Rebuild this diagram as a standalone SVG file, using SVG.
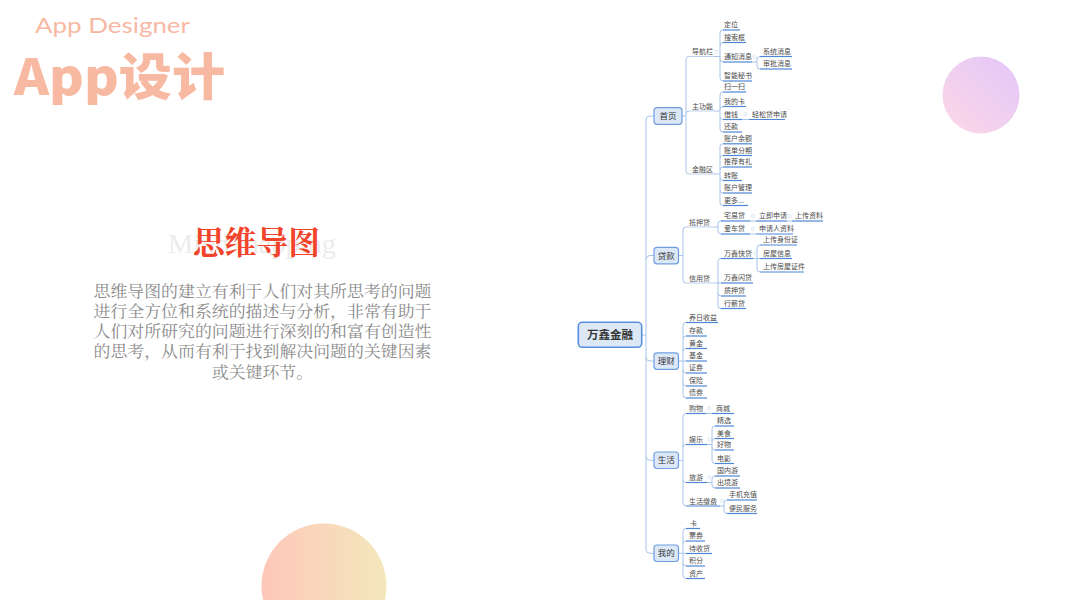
<svg xmlns="http://www.w3.org/2000/svg" width="1067" height="600" viewBox="0 0 1067 600">
<defs>
<linearGradient id="gPurple" x1="1" y1="0" x2="0" y2="1"><stop offset="0" stop-color="#e2c6fa"/><stop offset="1" stop-color="#fdd8e6"/></linearGradient>
<linearGradient id="gPeach" x1="0" y1="0" x2="1" y2="0"><stop offset="0" stop-color="#fec7b9"/><stop offset="1" stop-color="#f3e8bc"/></linearGradient>
<style>
.t{font-family:"Noto Sans CJK SC","Noto Sans",sans-serif;font-size:7px;fill:#4a4a4a}
.bt{font-family:"Noto Sans CJK SC","Noto Sans",sans-serif;font-size:8.5px;fill:#333;text-anchor:middle}
.ul{fill:none;stroke:#4d87d6;stroke-width:1.2}
.ul2{fill:none;stroke:#bcd1ee;stroke-width:1}
.c{fill:none;stroke:#a9c4ea;stroke-width:1}
.dot{fill:#fff;stroke:#d3dff0;stroke-width:0.8}
.box{fill:#dce8f7;stroke:#6f9fe0;stroke-width:1.2}
.para{font-family:"Noto Serif CJK SC","Noto Sans CJK SC",serif;font-size:15.5px;fill:#8a8a8a}
</style>
</defs>
<rect width="1067" height="600" fill="#ffffff"/>

<!-- decorative circles -->
<circle cx="981" cy="95" r="38.5" fill="url(#gPurple)"/>
<circle cx="324" cy="586" r="62.5" fill="url(#gPeach)"/>

<!-- left titles -->
<g id="title">
<text x="35" y="33" font-family="Lato, 'Open Sans', sans-serif" font-size="21" fill="#f7b9a3" textLength="155" lengthAdjust="spacingAndGlyphs">App Designer</text>
<text x="14" y="95" font-family="'Noto Sans CJK SC', sans-serif" font-weight="900" font-size="50" fill="#f7b9a1" textLength="211" lengthAdjust="spacingAndGlyphs">App设计</text>
</g>
<g id="intro">
<text x="168" y="253" font-family="'Liberation Serif', serif" font-size="28" fill="#ececec" textLength="168" lengthAdjust="spacingAndGlyphs">Mind mapping</text>
<text x="193" y="254" font-family="'Noto Serif CJK SC','Noto Sans CJK SC',serif" font-weight="bold" font-size="31.5" fill="#f2442b" textLength="127" lengthAdjust="spacingAndGlyphs">思维导图</text>
<text class="para" x="93.5" y="297" textLength="338" lengthAdjust="spacingAndGlyphs">思维导图的建立有利于人们对其所思考的问题</text>
<text class="para" x="93.5" y="317" textLength="338" lengthAdjust="spacingAndGlyphs">进行全方位和系统的描述与分析，非常有助于</text>
<text class="para" x="93.5" y="337" textLength="338" lengthAdjust="spacingAndGlyphs">人们对所研究的问题进行深刻的和富有创造性</text>
<text class="para" x="93.5" y="357" textLength="338" lengthAdjust="spacingAndGlyphs">的思考，从而有利于找到解决问题的关键因素</text>
<text class="para" x="262.5" y="377.5" text-anchor="middle" textLength="101" lengthAdjust="spacingAndGlyphs">或关键环节。</text>
</g>

<!-- connectors -->
<g id="connectors">
<path class="c" d="M641.7,335 H646 M646,120 V549.3 M646,120 Q646,116 650,116 H654 M646,259.5 Q646,255.5 650,255.5 H654 M646,357 Q646,361 650,361 H654 M646,456.3 Q646,460.3 650,460.3 H654 M646,549.3 Q646,553.3 650,553.3 H654"/>
<path class="c" d="M682,116 H686 M686,59.5 V171 M686,59.5 Q686,56.5 689,56.5 M686,114 Q686,111 689,111 M686,171 Q686,174 689,174"/>
<path class="c" d="M714,56.5 H720 M720,33 V78 M720,33 Q720,30 723,30 M720,45.5 Q720,42.5 723,42.5 M720,59 Q720,62 723,62 M720,78 Q720,81 723,81"/>
<path class="c" d="M752,62 H757 M757,59.5 V66 M757,59.5 Q757,56.5 760,56.5 M757,66 Q757,69 760,69"/>
<path class="c" d="M714,111 H720 M720,95 V129 M720,95 Q720,92 723,92 M720,109.5 Q720,106.5 723,106.5 M720,116.5 Q720,119.5 723,119.5 M720,129 Q720,132 723,132"/>
<path class="c" d="M742,119.5 H749"/>
<path class="c" d="M714,174 H720 M720,146.8 V202.5 M720,146.8 Q720,143.8 723,143.8 M720,158.5 Q720,155.5 723,155.5 M720,170 Q720,167 723,167 M720,177.5 Q720,180.5 723,180.5 M720,190 Q720,193 723,193 M720,202.5 Q720,205.5 723,205.5"/>
<path class="c" d="M678.5,255.5 H683 M683,230 V280 M683,230 Q683,227 686,227 M683,280 Q683,283 686,283"/>
<path class="c" d="M714,227 H718 M718,224 V231 M718,224 Q718,221 721,221 M718,231 Q718,234 721,234"/>
<path class="c" d="M750,221 H756 M787,221 H792 M750,234 H756"/>
<path class="c" d="M714,283 H718 M718,261.5 V305.5 M718,261.5 Q718,258.5 721,258.5 M718,283 H721 M718,293 Q718,296 721,296 M718,305.5 Q718,308.5 721,308.5"/>
<path class="c" d="M753,258.5 H757 M757,248 V269 M757,248 Q757,245 760,245 M757,258.5 H760 M757,269 Q757,272 760,272"/>
<path class="c" d="M678.5,361 H683 M683,325.5 V395 M683,325.5 Q683,322.5 686,322.5 M683,339 Q683,336 686,336 M683,351.5 Q683,348.5 686,348.5 M683,361 H686 M683,370 Q683,373 686,373 M683,383 Q683,386 686,386 M683,395 Q683,398 686,398"/>
<path class="c" d="M678.5,460.3 H683 M683,416.5 V503 M683,416.5 Q683,413.5 686,413.5 M683,447.5 Q683,444.5 686,444.5 M683,479.5 Q683,482.5 686,482.5 M683,503 Q683,506 686,506"/>
<path class="c" d="M706,413.5 H712"/>
<path class="c" d="M707,444.5 H712 M712,429 V460.5 M712,429 Q712,426 715,426 M712,441.5 Q712,438.5 715,438.5 M712,447 Q712,450 715,450 M712,460.5 Q712,463.5 715,463.5"/>
<path class="c" d="M707,482.5 H712 M712,479 V485 M712,479 Q712,476 715,476 M712,485 Q712,488 715,488"/>
<path class="c" d="M720,506 H724 M724,503 V510.5 M724,503 Q724,500 727,500 M724,510.5 Q724,513.5 727,513.5"/>
<path class="c" d="M678.5,553.3 H683 M683,531.5 V575.5 M683,531.5 Q683,528.5 686,528.5 M683,544 Q683,541 686,541 M683,553.3 H686 M683,563 Q683,566 686,566 M683,575.5 Q683,578.5 686,578.5"/>
<circle class="dot" cx="716.5" cy="51.7" r="1.6"/>
<circle class="dot" cx="754.5" cy="57" r="1.6"/>
<circle class="dot" cx="745.5" cy="114" r="1.6"/>
<circle class="dot" cx="753" cy="216" r="1.6"/>
<circle class="dot" cx="789.5" cy="216" r="1.6"/>
<circle class="dot" cx="753" cy="229" r="1.6"/>
<circle class="dot" cx="755" cy="253.3" r="1.6"/>
<circle class="dot" cx="709" cy="408.3" r="1.6"/>
<circle class="dot" cx="709.5" cy="439.3" r="1.6"/>
<circle class="dot" cx="709.5" cy="477.3" r="1.6"/>
<circle class="dot" cx="722" cy="500.7" r="1.6"/>
</g>

<!-- root -->
<g id="n-root">
<rect x="578.3" y="322.3" width="63.4" height="25" rx="4" fill="#dde8f6" stroke="#5a8fdc" stroke-width="1.6"/>
<text x="610" y="339" font-family="'Noto Sans CJK SC',sans-serif" font-size="11.5" font-weight="bold" fill="#333" text-anchor="middle">万鑫金融</text>
</g>

<!-- level 1 -->
<g id="n-shouye"><rect class="box" x="654" y="107.7" width="28" height="16.6" rx="3"/><text class="bt" x="668" y="119">首页</text></g>
<g id="n-daikuan"><rect class="box" x="654" y="247.3" width="24.5" height="16.5" rx="3"/><text class="bt" x="666.2" y="258.6">贷款</text></g>
<g id="n-licai"><rect class="box" x="654" y="352.8" width="24.5" height="16.5" rx="3"/><text class="bt" x="666.2" y="364.1">理财</text></g>
<g id="n-shenghuo"><rect class="box" x="654" y="452" width="24.5" height="16.5" rx="3"/><text class="bt" x="666.2" y="463.4">生活</text></g>
<g id="n-wode"><rect class="box" x="654" y="545" width="24.5" height="16.5" rx="3"/><text class="bt" x="666.2" y="556.4">我的</text></g>

<!-- 首页 branch -->
<g id="n-daohang"><path class="ul2" d="M689,56.5 H714"/><text class="t" x="692" y="54">导航栏</text></g>
<g id="n-dingwei"><path class="ul" d="M723,30 H740"/><text class="t" x="724" y="27">定位</text></g>
<g id="n-sousuo"><path class="ul" d="M723,42.5 H746"/><text class="t" x="724" y="39.5">搜索框</text></g>
<g id="n-tongzhi"><path class="ul" d="M723,62 H752"/><text class="t" x="724" y="59">通知消息</text></g>
<g id="n-xitong"><path class="ul" d="M760,56.5 H792"/><text class="t" x="763" y="53.5">系统消息</text></g>
<g id="n-shenpi"><path class="ul" d="M760,69 H792"/><text class="t" x="763" y="66">审批消息</text></g>
<g id="n-mishu"><path class="ul" d="M723,81 H752"/><text class="t" x="724" y="78">智能秘书</text></g>
<g id="n-zhugongneng"><path class="ul2" d="M689,111 H714"/><text class="t" x="692" y="108.5">主功能</text></g>
<g id="n-saoyisao"><path class="ul" d="M723,92 H746"/><text class="t" x="724" y="89">扫一扫</text></g>
<g id="n-wodeka"><path class="ul" d="M723,106.5 H746"/><text class="t" x="724" y="103.5">我的卡</text></g>
<g id="n-jieqian"><path class="ul" d="M723,119.5 H742"/><text class="t" x="724" y="116.5">借钱</text></g>
<g id="n-qingsong"><path class="ul" d="M749,119.5 H785"/><text class="t" x="752" y="116.5">轻松贷申请</text></g>
<g id="n-huankuan"><path class="ul" d="M723,132 H742"/><text class="t" x="724" y="129">还款</text></g>
<g id="n-jinrong"><path class="ul2" d="M689,174 H714"/><text class="t" x="692" y="171.5">金融区</text></g>
<g id="n-yue"><path class="ul" d="M723,143.8 H752"/><text class="t" x="724" y="140.8">账户余额</text></g>
<g id="n-fenqi"><path class="ul" d="M723,155.5 H752"/><text class="t" x="724" y="152.5">账单分期</text></g>
<g id="n-tuijian"><path class="ul" d="M723,167 H752"/><text class="t" x="724" y="164">推荐有礼</text></g>
<g id="n-zhuanzhang"><path class="ul" d="M723,180.5 H742"/><text class="t" x="724" y="177.5">转账</text></g>
<g id="n-guanli"><path class="ul" d="M723,193 H752"/><text class="t" x="724" y="190">账户管理</text></g>
<g id="n-gengduo"><path class="ul" d="M723,205.5 H748"/><text class="t" x="724" y="202.5">更多...</text></g>

<!-- 贷款 branch -->
<g id="n-diya"><path class="ul2" d="M686,227 H714"/><text class="t" x="689" y="224.5">抵押贷</text></g>
<g id="n-zhaiyi"><path class="ul" d="M721,221 H750"/><text class="t" x="724" y="218">宅易贷</text></g>
<g id="n-liji"><path class="ul" d="M756,221 H787"/><text class="t" x="759" y="218">立即申请</text></g>
<g id="n-shangchuan"><path class="ul" d="M792,221 H823"/><text class="t" x="795" y="218">上传资料</text></g>
<g id="n-aiche"><path class="ul" d="M721,234 H750"/><text class="t" x="724" y="231">爱车贷</text></g>
<g id="n-shenqingren"><path class="ul" d="M756,234 H793"/><text class="t" x="759" y="231">申请人资料</text></g>
<g id="n-xinyong"><path class="ul2" d="M686,283 H714"/><text class="t" x="689" y="280.5">信用贷</text></g>
<g id="n-kuaidai"><path class="ul" d="M721,258.5 H753"/><text class="t" x="724" y="255.5">万鑫快贷</text></g>
<g id="n-shenfen"><path class="ul" d="M760,245 H797"/><text class="t" x="763" y="242">上传身份证</text></g>
<g id="n-fangwu"><path class="ul" d="M760,258.5 H792"/><text class="t" x="763" y="255.5">房屋信息</text></g>
<g id="n-zhengjian"><path class="ul" d="M760,272 H804"/><text class="t" x="763" y="269">上传房屋证件</text></g>
<g id="n-shandai"><path class="ul" d="M721,283 H753"/><text class="t" x="724" y="280">万鑫闪贷</text></g>
<g id="n-zhiya"><path class="ul" d="M721,296 H746"/><text class="t" x="724" y="293">质押贷</text></g>
<g id="n-xingxin"><path class="ul" d="M721,308.5 H746"/><text class="t" x="724" y="305.5">行薪贷</text></g>

<!-- 理财 branch -->
<g id="n-shouyi"><path class="ul" d="M686,322.5 H718"/><text class="t" x="689" y="319.5">养日收益</text></g>
<g id="n-cunkuan"><path class="ul" d="M686,336 H707"/><text class="t" x="689" y="333">存款</text></g>
<g id="n-huangjin"><path class="ul" d="M686,348.5 H707"/><text class="t" x="689" y="345.5">黄金</text></g>
<g id="n-jijin"><path class="ul" d="M686,361 H707"/><text class="t" x="689" y="358">基金</text></g>
<g id="n-zhengquan"><path class="ul" d="M686,373 H707"/><text class="t" x="689" y="370">证券</text></g>
<g id="n-baoxian"><path class="ul" d="M686,386 H707"/><text class="t" x="689" y="383">保险</text></g>
<g id="n-zhaiquan"><path class="ul" d="M686,398 H707"/><text class="t" x="689" y="395">债券</text></g>

<!-- 生活 branch -->
<g id="n-gouwu"><path class="ul" d="M686,413.5 H706"/><text class="t" x="689" y="411">购物</text></g>
<g id="n-shangcheng"><path class="ul" d="M712,413.5 H734"/><text class="t" x="716" y="410.5">商城</text></g>
<g id="n-yule"><path class="ul" d="M686,444.5 H707"/><text class="t" x="689" y="442">娱乐</text></g>
<g id="n-jingxuan"><path class="ul" d="M715,426 H734"/><text class="t" x="717" y="423">精选</text></g>
<g id="n-meishi"><path class="ul" d="M715,438.5 H734"/><text class="t" x="717" y="435.5">美食</text></g>
<g id="n-haowu"><path class="ul" d="M715,450 H734"/><text class="t" x="717" y="447">好物</text></g>
<g id="n-dianying"><path class="ul" d="M715,463.5 H734"/><text class="t" x="717" y="460.5">电影</text></g>
<g id="n-lvyou"><path class="ul" d="M686,482.5 H707"/><text class="t" x="689" y="480">旅游</text></g>
<g id="n-guonei"><path class="ul" d="M715,476 H740"/><text class="t" x="717" y="473">国内游</text></g>
<g id="n-chujing"><path class="ul" d="M715,488 H740"/><text class="t" x="717" y="485">出境游</text></g>
<g id="n-jiaofei"><path class="ul" d="M686,506 H720"/><text class="t" x="689" y="503.5">生活缴费</text></g>
<g id="n-chongzhi"><path class="ul" d="M727,500 H757"/><text class="t" x="729" y="497">手机充值</text></g>
<g id="n-bianmin"><path class="ul" d="M727,513.5 H757"/><text class="t" x="729" y="510.5">便民服务</text></g>

<!-- 我的 branch -->
<g id="n-ka"><path class="ul" d="M686,528.5 H700"/><text class="t" x="690" y="525.5">卡</text></g>
<g id="n-piaoquan"><path class="ul" d="M686,541 H705"/><text class="t" x="689" y="538">票券</text></g>
<g id="n-daishouhuo"><path class="ul" d="M686,553.5 H712"/><text class="t" x="689" y="550.5">待收货</text></g>
<g id="n-jifen"><path class="ul" d="M686,566 H705"/><text class="t" x="689" y="563">积分</text></g>
<g id="n-zichan"><path class="ul" d="M686,578.5 H705"/><text class="t" x="689" y="575.5">资产</text></g>
</svg>
